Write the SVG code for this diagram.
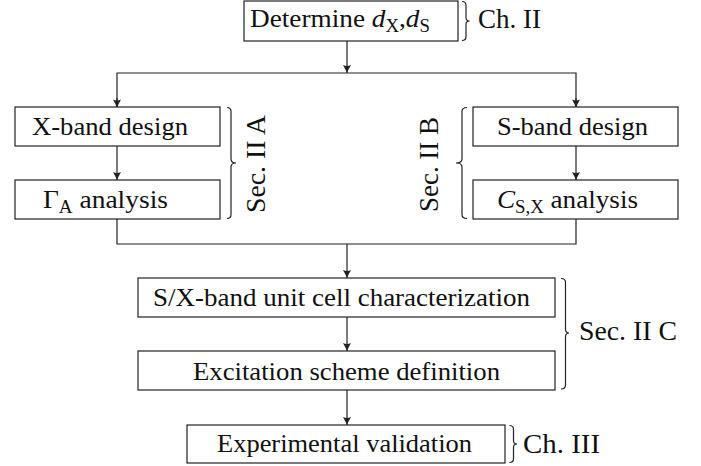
<svg xmlns="http://www.w3.org/2000/svg" width="701" height="466" viewBox="0 0 701 466">
<style>
  .box { fill: #fff; stroke: #222; stroke-width: 1.2; }
  .t { font-family: 'Liberation Serif', 'Times New Roman', Times, serif; font-size: 26px; fill: #111; }
  .lab { font-family: 'Liberation Serif', 'Times New Roman', Times, serif; font-size: 27px; fill: #111; }
  .sub { font-size: 18px; }
  .it { font-style: italic; }
  .c { fill: none; stroke: #222; stroke-width: 1.2; }
  .br { fill: none; stroke: #222; stroke-width: 1.2; }
</style>
<defs>
  <marker id="arr" viewBox="-9 -5 10 10" refX="0" refY="0" markerWidth="10" markerHeight="10" markerUnits="userSpaceOnUse" orient="auto">
    <path d="M-8,-4 Q-3,-1.2 0,0 Q-3,1.2 -8,4 Q-6,0 -8,-4 Z" fill="#222"/>
  </marker>
</defs>

<g id="connectors">
  <line class="c" x1="347" y1="41" x2="347" y2="73" marker-end="url(#arr)"/>
  <polyline class="c" points="117,108 117,73 576,73 576,108"/>
  <line class="c" x1="117" y1="98" x2="117" y2="107.5" marker-end="url(#arr)"/>
  <line class="c" x1="576" y1="98" x2="576" y2="107.5" marker-end="url(#arr)"/>
  <line class="c" x1="117" y1="146" x2="117" y2="180" marker-end="url(#arr)"/>
  <line class="c" x1="576" y1="146" x2="576" y2="180" marker-end="url(#arr)"/>
  <polyline class="c" points="117,219 117,244 576,244 576,219"/>
  <line class="c" x1="347" y1="244" x2="347" y2="278" marker-end="url(#arr)"/>
  <line class="c" x1="347" y1="317" x2="347" y2="351" marker-end="url(#arr)"/>
  <line class="c" x1="347" y1="390" x2="347" y2="425" marker-end="url(#arr)"/>
</g>

<g id="node-determine">
  <rect class="box" x="244" y="1" width="214" height="40"/>
  <text class="t" x="250" y="27" textLength="180" lengthAdjust="spacingAndGlyphs">Determine <tspan class="it">d</tspan><tspan class="sub" dy="5">X</tspan><tspan dy="-5">,</tspan><tspan class="it">d</tspan><tspan class="sub" dy="5">S</tspan></text>
</g>

<g id="node-xband">
  <rect class="box" x="15" y="107" width="205" height="39"/>
  <text class="t" x="32" y="134.5" textLength="156" lengthAdjust="spacingAndGlyphs">X-band design</text>
</g>

<g id="node-gamma">
  <rect class="box" x="15" y="180" width="205" height="39"/>
  <text class="t" x="43" y="207.5" textLength="125" lengthAdjust="spacingAndGlyphs">Γ<tspan class="sub" dy="5">A</tspan><tspan dy="-5">  analysis</tspan></text>
</g>

<g id="node-sband">
  <rect class="box" x="473" y="107" width="205" height="39"/>
  <text class="t" x="497" y="134.5" textLength="151" lengthAdjust="spacingAndGlyphs">S-band design</text>
</g>

<g id="node-csx">
  <rect class="box" x="473" y="180" width="205" height="39"/>
  <text class="t" x="497" y="207.5" textLength="141" lengthAdjust="spacingAndGlyphs"><tspan class="it">C</tspan><tspan class="sub" dy="5">S,X</tspan><tspan dy="-5"> analysis</tspan></text>
</g>

<g id="node-unitcell">
  <rect class="box" x="138" y="278" width="417" height="39"/>
  <text class="t" x="153" y="305.5" textLength="377" lengthAdjust="spacingAndGlyphs">S/X-band unit cell characterization</text>
</g>

<g id="node-excitation">
  <rect class="box" x="138" y="351" width="417" height="39"/>
  <text class="t" x="193" y="380" textLength="307" lengthAdjust="spacingAndGlyphs">Excitation scheme definition</text>
</g>

<g id="node-experimental">
  <rect class="box" x="187" y="425" width="318" height="38"/>
  <text class="t" x="217" y="452" textLength="255" lengthAdjust="spacingAndGlyphs">Experimental validation</text>
</g>

<g id="brace-ch2">
  <path class="br" d="M462,1.5 Q466,1.5 466,5.5 L466,17.5 Q466,21 469.5,21 Q466,21 466,24.5 L466,36.5 Q466,40.5 462,40.5"/>
  <text class="lab" x="478" y="28" textLength="63" lengthAdjust="spacingAndGlyphs">Ch. II</text>
</g>

<g id="brace-sec2a">
  <path class="br" d="M227,107.5 Q231,107.5 231,111.5 L231,159 Q231,163 236,163 Q231,163 231,167 L231,214.5 Q231,218.5 227,218.5"/>
  <text class="lab" transform="translate(265,213) rotate(-90)" x="0" y="0" textLength="98" lengthAdjust="spacingAndGlyphs">Sec. II A</text>
</g>

<g id="brace-sec2b">
  <path class="br" d="M467,107.5 Q462,107.5 462,111.5 L462,159 Q462,163 456,163 Q462,163 462,167 L462,214.5 Q462,218.5 467,218.5"/>
  <text class="lab" transform="translate(438,212) rotate(-90)" x="0" y="0" textLength="95" lengthAdjust="spacingAndGlyphs">Sec. II B</text>
</g>

<g id="brace-sec2c">
  <path class="br" d="M561,278.5 Q565.5,278.5 565.5,282.5 L565.5,329 Q565.5,333 569,333 Q565.5,333 565.5,337 L565.5,385 Q565.5,389 561,389"/>
  <text class="lab" x="579" y="340" textLength="98" lengthAdjust="spacingAndGlyphs">Sec. II C</text>
</g>

<g id="brace-ch3">
  <path class="br" d="M509.5,425.5 Q513.5,425.5 513.5,429.5 L513.5,440.5 Q513.5,444 517,444 Q513.5,444 513.5,447.5 L513.5,458.5 Q513.5,462.5 509.5,462.5"/>
  <text class="lab" x="523" y="452.5" textLength="77" lengthAdjust="spacingAndGlyphs">Ch. III</text>
</g>
</svg>
